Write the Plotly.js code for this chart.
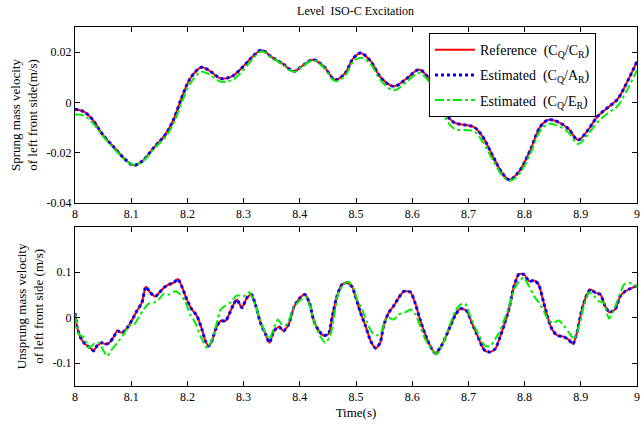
<!DOCTYPE html>
<html>
<head>
<meta charset="utf-8">
<script src="https://cdn.plot.ly/plotly-3.0.1.min.js"></script>
<style>html,body{margin:0;padding:0;background:#fff}#chart{width:643px;height:425px}</style>
</head>
<body>
<div id="chart"></div>
<script>
// ---------- Sprung mass velocity (top) ----------
var timeTop = [8.00, 8.015, 8.03, 8.05, 8.07, 8.09, 8.105, 8.12, 8.14, 8.16, 8.175, 8.19, 8.205, 8.225, 8.24, 8.26, 8.28, 8.30, 8.315, 8.332, 8.35, 8.37, 8.389, 8.405, 8.424, 8.443, 8.463, 8.48, 8.495, 8.508, 8.525, 8.545, 8.567, 8.59, 8.612, 8.63, 8.645, 8.66, 8.675, 8.695, 8.71, 8.725, 8.745, 8.76, 8.773, 8.79, 8.81, 8.828, 8.843, 8.86, 8.878, 8.895, 8.91, 8.93, 8.95, 8.965, 8.98, 9.0];
var sprungRef = [-0.0027, -0.0036, -0.0065, -0.013, -0.018, -0.0228, -0.025, -0.0233, -0.018, -0.013, -0.007, 0.002, 0.0095, 0.014, 0.0125, 0.0095, 0.0105, 0.0145, 0.018, 0.0208, 0.018, 0.0153, 0.0124, 0.0146, 0.017, 0.0142, 0.009, 0.0115, 0.0175, 0.0197, 0.0167, 0.0097, 0.0064, 0.0095, 0.013, 0.0095, 0.003, -0.0045, -0.008, -0.009, -0.0098, -0.0135, -0.022, -0.028, -0.0307, -0.0275, -0.019, -0.0096, -0.0069, -0.0078, -0.0105, -0.0149, -0.0118, -0.0055, -0.0017, 0.0012, 0.007, 0.0163];
var sprungEstA = [-0.0027, -0.0036, -0.0065, -0.013, -0.018, -0.0228, -0.025, -0.0233, -0.018, -0.013, -0.007, 0.002, 0.0095, 0.014, 0.0125, 0.0095, 0.0105, 0.0145, 0.018, 0.0208, 0.018, 0.0153, 0.0124, 0.0146, 0.017, 0.0142, 0.009, 0.0115, 0.0175, 0.0197, 0.0167, 0.0097, 0.0064, 0.0095, 0.013, 0.0095, 0.003, -0.0045, -0.008, -0.009, -0.0098, -0.0135, -0.022, -0.028, -0.0307, -0.0275, -0.019, -0.0096, -0.0069, -0.0078, -0.0105, -0.0149, -0.0118, -0.0055, -0.0017, 0.0012, 0.007, 0.0163];
var sprungEstE = [-0.0048, -0.0052, -0.0078, -0.0135, -0.0185, -0.023, -0.0248, -0.0235, -0.0185, -0.014, -0.0085, 0.0, 0.0075, 0.0122, 0.011, 0.0082, 0.009, 0.013, 0.017, 0.0203, 0.0178, 0.015, 0.0122, 0.0145, 0.0168, 0.0138, 0.0085, 0.0105, 0.0162, 0.0178, 0.0155, 0.0085, 0.0048, 0.0082, 0.0117, 0.0082, 0.0015, -0.0065, -0.0105, -0.011, -0.0115, -0.0155, -0.0235, -0.029, -0.0312, -0.0285, -0.0205, -0.0112, -0.0085, -0.0093, -0.012, -0.0165, -0.0135, -0.0078, -0.004, -0.0015, 0.004, 0.0128];

// ---------- Unsprung mass velocity (bottom) ----------
var timeBotRef = [8.000, 8.004, 8.010, 8.018, 8.030, 8.033, 8.039, 8.048, 8.054, 8.060, 8.069, 8.075, 8.084, 8.093, 8.102, 8.110, 8.119, 8.126, 8.134, 8.143, 8.150, 8.158, 8.167, 8.176, 8.183, 8.190, 8.199, 8.208, 8.217, 8.226, 8.232, 8.238, 8.244, 8.250, 8.259, 8.268, 8.273, 8.282, 8.288, 8.297, 8.306, 8.314, 8.321, 8.330, 8.339, 8.346, 8.354, 8.363, 8.371, 8.380, 8.389, 8.399, 8.409, 8.417, 8.425, 8.434, 8.442, 8.451, 8.458, 8.466, 8.475, 8.484, 8.493, 8.499, 8.508, 8.517, 8.526, 8.535, 8.543, 8.549, 8.558, 8.567, 8.576, 8.585, 8.597, 8.605, 8.614, 8.623, 8.632, 8.641, 8.650, 8.659, 8.668, 8.677, 8.686, 8.697, 8.706, 8.715, 8.724, 8.730, 8.739, 8.748, 8.755, 8.763, 8.772, 8.781, 8.790, 8.799, 8.808, 8.817, 8.825, 8.834, 8.843, 8.849, 8.858, 8.870, 8.879, 8.886, 8.893, 8.902, 8.911, 8.917, 8.926, 8.935, 8.943, 8.951, 8.961, 8.970, 8.979, 8.988, 8.997, 9.000];
var unsprungRef = [0.010, -0.022, -0.044, -0.058, -0.069, -0.073, -0.062, -0.055, -0.058, -0.056, -0.042, -0.029, -0.033, -0.022, -0.004, 0.015, 0.033, 0.068, 0.055, 0.047, 0.055, 0.066, 0.073, 0.077, 0.085, 0.069, 0.040, 0.018, 0.004, -0.026, -0.051, -0.062, -0.050, -0.026, -0.007, -0.007, 0.004, 0.029, 0.040, 0.022, 0.044, 0.051, 0.029, -0.011, -0.036, -0.055, -0.029, -0.020, -0.029, -0.015, 0.022, 0.042, 0.051, 0.033, -0.007, -0.029, -0.039, -0.036, 0.004, 0.047, 0.073, 0.077, 0.068, 0.047, 0.011, -0.018, -0.051, -0.067, -0.055, -0.018, 0.011, 0.026, 0.044, 0.058, 0.056, 0.033, -0.004, -0.036, -0.062, -0.078, -0.066, -0.044, -0.018, 0.007, 0.020, 0.015, -0.011, -0.036, -0.062, -0.073, -0.075, -0.068, -0.047, -0.018, 0.018, 0.069, 0.096, 0.095, 0.080, 0.082, 0.073, 0.033, -0.007, -0.026, -0.039, -0.042, -0.049, -0.058, -0.033, 0.018, 0.051, 0.062, 0.055, 0.051, 0.026, 0.012, 0.018, 0.047, 0.058, 0.064, 0.069, 0.071];
var unsprungEstA = [0.010, -0.022, -0.044, -0.058, -0.069, -0.073, -0.062, -0.055, -0.058, -0.056, -0.042, -0.029, -0.033, -0.022, -0.004, 0.015, 0.033, 0.068, 0.055, 0.047, 0.055, 0.066, 0.073, 0.077, 0.085, 0.069, 0.040, 0.018, 0.004, -0.026, -0.051, -0.062, -0.050, -0.026, -0.007, -0.007, 0.004, 0.029, 0.040, 0.022, 0.044, 0.051, 0.029, -0.011, -0.036, -0.055, -0.029, -0.020, -0.029, -0.015, 0.022, 0.042, 0.051, 0.033, -0.007, -0.029, -0.039, -0.036, 0.004, 0.047, 0.073, 0.077, 0.068, 0.047, 0.011, -0.018, -0.051, -0.067, -0.055, -0.018, 0.011, 0.026, 0.044, 0.058, 0.056, 0.033, -0.004, -0.036, -0.062, -0.078, -0.066, -0.044, -0.018, 0.007, 0.020, 0.015, -0.011, -0.036, -0.062, -0.073, -0.075, -0.068, -0.047, -0.018, 0.018, 0.069, 0.096, 0.095, 0.080, 0.082, 0.073, 0.033, -0.007, -0.026, -0.039, -0.042, -0.049, -0.058, -0.033, 0.018, 0.051, 0.062, 0.055, 0.051, 0.026, 0.012, 0.018, 0.047, 0.058, 0.064, 0.069, 0.071];
var timeBotE = [8.000, 8.007, 8.016, 8.025, 8.034, 8.043, 8.051, 8.057, 8.066, 8.078, 8.087, 8.096, 8.105, 8.113, 8.122, 8.131, 8.140, 8.149, 8.158, 8.167, 8.179, 8.187, 8.196, 8.205, 8.214, 8.223, 8.232, 8.235, 8.244, 8.253, 8.259, 8.268, 8.276, 8.288, 8.300, 8.310, 8.321, 8.330, 8.339, 8.346, 8.354, 8.361, 8.368, 8.377, 8.389, 8.401, 8.410, 8.419, 8.428, 8.437, 8.445, 8.454, 8.460, 8.469, 8.478, 8.487, 8.496, 8.502, 8.511, 8.520, 8.529, 8.537, 8.546, 8.552, 8.558, 8.567, 8.576, 8.588, 8.597, 8.606, 8.615, 8.623, 8.635, 8.644, 8.653, 8.665, 8.677, 8.686, 8.694, 8.703, 8.712, 8.721, 8.730, 8.739, 8.751, 8.755, 8.763, 8.772, 8.781, 8.790, 8.798, 8.808, 8.817, 8.825, 8.834, 8.843, 8.852, 8.861, 8.870, 8.879, 8.888, 8.897, 8.906, 8.915, 8.924, 8.932, 8.941, 8.950, 8.959, 8.968, 8.977, 8.986, 8.995, 9.000];
var unsprungEstE = [0.008, -0.036, -0.044, -0.066, -0.057, -0.055, -0.073, -0.084, -0.069, -0.051, -0.036, -0.018, -0.015, 0.000, 0.018, 0.031, 0.033, 0.040, 0.053, 0.051, 0.058, 0.051, 0.036, 0.007, -0.011, -0.040, -0.062, -0.067, -0.047, -0.008, 0.018, 0.027, 0.033, 0.049, 0.047, 0.056, 0.026, -0.007, -0.033, -0.047, -0.022, -0.004, -0.015, -0.015, 0.022, 0.039, 0.046, 0.022, -0.018, -0.042, -0.055, -0.040, -0.004, 0.055, 0.073, 0.079, 0.064, 0.040, 0.018, -0.011, -0.033, -0.039, -0.029, -0.004, 0.000, -0.004, 0.007, 0.012, 0.018, 0.007, -0.022, -0.047, -0.069, -0.080, -0.062, -0.022, 0.015, 0.029, 0.031, 0.004, -0.022, -0.044, -0.062, -0.062, -0.040, -0.033, -0.007, 0.022, 0.062, 0.080, 0.088, 0.069, 0.047, 0.034, 0.015, -0.007, -0.011, -0.006, -0.018, -0.033, -0.047, -0.018, 0.029, 0.056, 0.047, 0.036, 0.033, -0.002, 0.018, 0.047, 0.073, 0.077, 0.073, 0.066];

// ---------- ticks / labels ----------
var xTicks = [8, 8.1, 8.2, 8.3, 8.4, 8.5, 8.6, 8.7, 8.8, 8.9, 9];
var xTickText = ["8", "8.1", "8.2", "8.3", "8.4", "8.5", "8.6", "8.7", "8.8", "8.9", "9"];
var yTopTicks = [-0.04, -0.02, 0, 0.02];
var yTopTickText = ["-0.04", "-0.02", "0", "0.02"];
var yBotTicks = [-0.1, 0, 0.1];
var yBotTickText = ["-0.1", "0", "0.1"];
var seriesNames = ["Reference  (C<sub>Q</sub>/C<sub>R</sub>)", "Estimated  (C<sub>Q</sub>/A<sub>R</sub>)", "Estimated  (C<sub>Q</sub>/E<sub>R</sub>)"];

var FONT = "Liberation Serif, Times New Roman, serif";
var redLine = {color: "#ff0000", width: 2, dash: "solid"};
var blueLine = {color: "#0000ff", width: 3, dash: "dot"};
var greenLine = {color: "#00ee00", width: 2, dash: "dashdot"};

var traces = [
  {x: timeTop, y: sprungRef, xaxis: "x", yaxis: "y", mode: "lines", line: Object.assign({shape: "spline"}, redLine), name: seriesNames[0], legendgroup: "a"},
  {x: timeTop, y: sprungEstA, xaxis: "x", yaxis: "y", mode: "lines", line: Object.assign({shape: "spline"}, blueLine), name: seriesNames[1], legendgroup: "b"},
  {x: timeTop, y: sprungEstE, xaxis: "x", yaxis: "y", mode: "lines", line: Object.assign({shape: "spline"}, greenLine), name: seriesNames[2], legendgroup: "c"},
  {x: timeBotRef, y: unsprungRef, xaxis: "x2", yaxis: "y2", mode: "lines", line: Object.assign({shape: "spline", smoothing: 0.6}, redLine), name: seriesNames[0], showlegend: false},
  {x: timeBotRef, y: unsprungEstA, xaxis: "x2", yaxis: "y2", mode: "lines", line: Object.assign({shape: "spline", smoothing: 0.6}, blueLine), name: seriesNames[1], showlegend: false},
  {x: timeBotE, y: unsprungEstE, xaxis: "x2", yaxis: "y2", mode: "lines", line: Object.assign({shape: "spline", smoothing: 0.6}, greenLine), name: seriesNames[2], showlegend: false}
];

var axCommon = {
  showline: true, linecolor: "#000", linewidth: 1, mirror: "ticks",
  ticks: "inside", ticklen: 5, tickcolor: "#000", tickwidth: 1,
  showgrid: false, zeroline: false,
  tickfont: {family: FONT, size: 12, color: "#000"}
};

var layout = {
  width: 643, height: 425,
  margin: {l: 75, r: 6, t: 27, b: 39},
  paper_bgcolor: "#fff", plot_bgcolor: "#fff",
  font: {family: FONT, color: "#000", size: 12},
  title: {text: "Level  ISO-C Excitation", font: {family: FONT, size: 12, color: "#000"}, x: 0.553, xanchor: "center", y: 0.975, yanchor: "middle"},
  showlegend: true,
  legend: {
    x: 0.927, xanchor: "right", y: 0.983, yanchor: "top",
    bgcolor: "#fff", bordercolor: "#000", borderwidth: 1,
    font: {family: FONT, size: 14, color: "#000"},
    itemwidth: 40, tracegroupgap: 4
  },
  xaxis: Object.assign({}, axCommon, {domain: [0, 1], range: [8, 9], anchor: "y", tickvals: xTicks, ticktext: xTickText}),
  yaxis: Object.assign({}, axCommon, {domain: [0.5097, 1], range: [-0.04, 0.03], anchor: "x", tickvals: yTopTicks, ticktext: yTopTickText,
    title: {text: "Sprung mass velocity<br>of left front side(m/s)", font: {family: FONT, size: 13, color: "#000"}, standoff: 6}}),
  xaxis2: Object.assign({}, axCommon, {domain: [0, 1], range: [8, 9], anchor: "y2", tickvals: xTicks, ticktext: xTickText,
    title: {text: "Time(s)", font: {family: FONT, size: 13, color: "#000"}, standoff: 4}}),
  yaxis2: Object.assign({}, axCommon, {domain: [0, 0.4437], range: [-0.15, 0.2], anchor: "x2", tickvals: yBotTicks, ticktext: yBotTickText,
    title: {text: "Unsprung mass velocity<br>of left front side (m/s)", font: {family: FONT, size: 13, color: "#000"}, standoff: 6}})
};

Plotly.newPlot("chart", traces, layout, {displayModeBar: false, staticPlot: true});
</script>
</body>
</html>
